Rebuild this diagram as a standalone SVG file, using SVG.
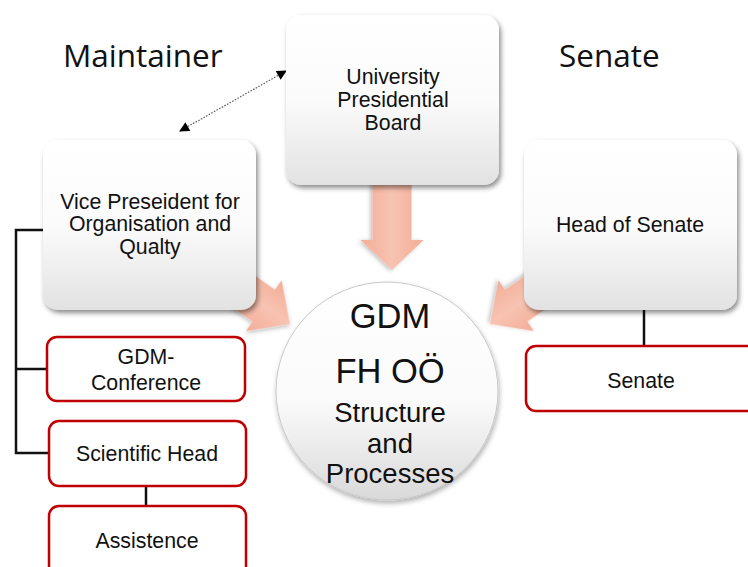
<svg xmlns="http://www.w3.org/2000/svg" width="748" height="567" viewBox="0 0 748 567">
<defs>
<style>
.t{font-family:"Liberation Sans",Arial,sans-serif;fill:#111;text-anchor:middle;font-size:21.3px}
.c{font-size:27.5px}
.big{font-size:34.5px}
.h{font-family:"Open Sans","Noto Sans",sans-serif;fill:#111;font-size:31.5px}
.gray{fill:url(#gg);filter:url(#sh)}
.red{fill:#fff;stroke:#c00000;stroke-width:2.5}
.tree{stroke:#111;stroke-width:2.5;fill:none}
.pink{fill:url(#pg);filter:url(#sh2)}
</style>
<linearGradient id="gg" x1="0" y1="0" x2="0" y2="1">
<stop offset="0" stop-color="#ffffff"/>
<stop offset="0.5" stop-color="#fbfbfb"/>
<stop offset="1" stop-color="#e2e2e2"/>
</linearGradient>
<linearGradient id="cg" x1="0" y1="0" x2="0" y2="1">
<stop offset="0" stop-color="#ffffff"/>
<stop offset="0.55" stop-color="#fafafa"/>
<stop offset="1" stop-color="#d9d9d9"/>
</linearGradient>
<linearGradient id="pg" x1="0" y1="0" x2="0" y2="1">
<stop offset="0" stop-color="#f2ad97"/>
<stop offset="0.5" stop-color="#f8c3b2"/>
<stop offset="1" stop-color="#f2ad97"/>
</linearGradient>
<filter id="sh" x="-20%" y="-20%" width="140%" height="140%">
<feDropShadow dx="2" dy="3" stdDeviation="2.5" flood-color="#000" flood-opacity="0.45"/>
</filter>
<filter id="sh3" x="-20%" y="-20%" width="140%" height="140%">
<feDropShadow dx="1" dy="3" stdDeviation="2.5" flood-color="#000" flood-opacity="0.3"/>
</filter>
<filter id="sh2" x="-20%" y="-20%" width="140%" height="140%">
<feDropShadow dx="1" dy="2" stdDeviation="2" flood-color="#000" flood-opacity="0.25"/>
</filter>
<marker id="ah" viewBox="0 0 10 10" refX="9" refY="5" markerWidth="11" markerHeight="10" markerUnits="userSpaceOnUse" orient="auto-start-reverse">
<path d="M0,0 L10,5 L0,10 z" fill="#000"/>
</marker>
</defs>

<rect width="748" height="567" fill="#fff"/>

<text class="h" x="63" y="67">Maintainer</text>
<text class="h" x="559" y="67">Senate</text>

<g id="connectors">
<line x1="180" y1="131" x2="286" y2="71" stroke="#555" stroke-width="1.2" stroke-dasharray="1.5 1.5" marker-start="url(#ah)" marker-end="url(#ah)"/>
<polyline class="tree" points="43,230 16,230 16,453 49,453"/>
<line class="tree" x1="16" y1="369" x2="47" y2="369"/>
<line class="tree" x1="146" y1="486" x2="146" y2="506"/>
<line class="tree" x1="644" y1="309" x2="644" y2="346"/>
<g id="bigArrows">
<path class="pink" transform="translate(392,270) rotate(90)" d="M0,0 L-30,-31.5 L-30,-19.5 L-90,-19.5 L-90,19.5 L-30,19.5 L-30,31.5 Z"/>
<path class="pink" transform="translate(290,324) rotate(35)" d="M0,0 L-32,-31 L-32,-19.5 L-100,-19.5 L-100,19.5 L-32,19.5 L-32,31 Z"/>
<path class="pink" transform="translate(490,324) rotate(145)" d="M0,0 L-32,-31 L-32,-19.5 L-100,-19.5 L-100,19.5 L-32,19.5 L-32,31 Z"/>
</g>
</g>

<g id="center">
<ellipse cx="387" cy="391" rx="111" ry="109" fill="url(#cg)" stroke="#c8c8c8" stroke-width="1" filter="url(#sh3)"/>
<text class="t big" x="390" y="328">GDM</text>
<text class="t big" x="390" y="383">FH OÖ</text>
<text class="t c" x="390" y="422">Structure</text>
<text class="t c" x="390" y="453">and</text>
<text class="t c" x="390" y="483">Processes</text>
</g>

<g id="upb">
<rect class="gray" x="286" y="15" width="213" height="170" rx="15"/>
<text class="t" x="393" y="84">University</text>
<text class="t" x="393" y="107">Presidential</text>
<text class="t" x="393" y="130">Board</text>
</g>

<g id="vp">
<rect class="gray" x="43" y="140" width="213" height="170" rx="15"/>
<text class="t" x="150" y="209">Vice Preseident for</text>
<text class="t" x="150" y="231">Organisation and</text>
<text class="t" x="150" y="254">Qualty</text>
</g>

<g id="hos">
<rect class="gray" x="524" y="140" width="213" height="170" rx="15"/>
<text class="t" x="630" y="232">Head of Senate</text>
</g>

<g id="gdmconf">
<rect class="red" x="47" y="337" width="198" height="64" rx="10"/>
<text class="t" x="146" y="364">GDM-</text>
<text class="t" x="146" y="390">Conference</text>
</g>

<g id="scihead">
<rect class="red" x="49" y="421" width="197" height="65" rx="10"/>
<text class="t" x="147" y="461">Scientific Head</text>
</g>

<g id="assist">
<rect class="red" x="49" y="506" width="197" height="72" rx="10"/>
<text class="t" x="147" y="548">Assistence</text>
</g>

<g id="senate">
<rect class="red" x="526" y="346" width="240" height="65" rx="10"/>
<text class="t" x="641" y="388">Senate</text>
</g>
</svg>
